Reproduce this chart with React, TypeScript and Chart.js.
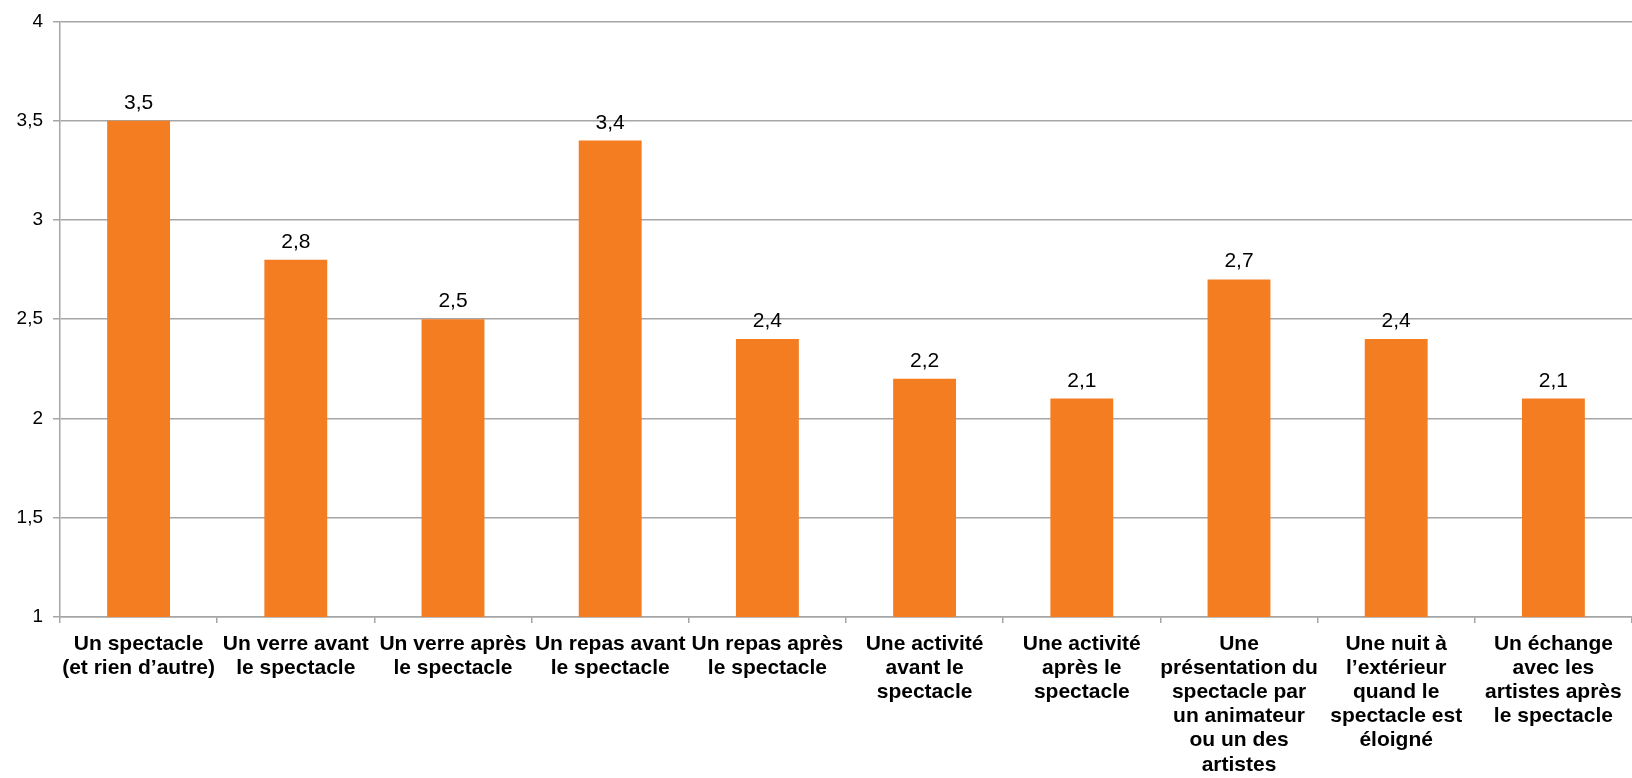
import React, { useEffect, useRef } from "react";
import { Chart, registerables } from "chart.js";

Chart.register(...registerables);

const categories: string[][] = [
  ["Un spectacle", "(et rien d’autre)"],
  ["Un verre avant", "le spectacle"],
  ["Un verre après", "le spectacle"],
  ["Un repas avant", "le spectacle"],
  ["Un repas après", "le spectacle"],
  ["Une activité", "avant le", "spectacle"],
  ["Une activité", "après le", "spectacle"],
  ["Une", "présentation du", "spectacle par", "un animateur", "ou un des", "artistes"],
  ["Une nuit à", "l’extérieur", "quand le", "spectacle est", "éloigné"],
  ["Un échange", "avec les", "artistes après", "le spectacle"],
];

const values: number[] = [3.5, 2.8, 2.5, 3.4, 2.4, 2.2, 2.1, 2.7, 2.4, 2.1];

const yMin = 1;
const yMax = 4;
const yStep = 0.5;

const barColor = "#F47D22";
const gridColor = "#A6A6A6";
const fontFamily = "'Liberation Sans', Arial, sans-serif";

const fmt = (v: number) => String(v).replace(".", ",");

const dataLabelPlugin = {
  id: "dataLabels",
  afterDatasetsDraw(chart: any) {
    const ctx = chart.ctx;
    const meta = chart.getDatasetMeta(0);
    ctx.save();
    ctx.font = `21px ${fontFamily}`;
    ctx.fillStyle = "#000";
    ctx.textAlign = "center";
    ctx.textBaseline = "alphabetic";
    meta.data.forEach((bar: any, i: number) => {
      ctx.fillText(fmt(values[i]), bar.x, bar.y - 12);
    });
    ctx.restore();
  },
};

export default function App() {
  const ref = useRef<HTMLCanvasElement | null>(null);

  useEffect(() => {
    document.body.style.margin = "0";
    const canvas = ref.current;
    if (!canvas) return;
    const chart = new Chart(canvas, {
      type: "bar",
      data: {
        labels: categories,
        datasets: [
          {
            data: values,
            backgroundColor: barColor,
            borderWidth: 0,
            categoryPercentage: 0.8,
            barPercentage: 0.5,
          },
        ],
      },
      options: {
        animation: false,
        responsive: false,
        maintainAspectRatio: false,
        layout: { padding: { top: 19, right: 0, left: 0, bottom: 0 } },
        plugins: {
          legend: { display: false },
          tooltip: { enabled: false },
        },
        scales: {
          x: {
            grid: {
              display: true,
              drawOnChartArea: false,
              drawTicks: true,
              tickLength: 6,
              color: gridColor,
              lineWidth: 1.5,
              offset: true,
            },
            border: { display: true, color: gridColor, width: 1.5 },
            ticks: {
              color: "#000",
              font: { family: fontFamily, size: 21, weight: "bold", lineHeight: 1.15 },
              padding: 9,
              maxRotation: 0,
              autoSkip: false,
            },
            afterFit: (scale: any) => {
              scale.height = 778 - 617;
            },
          },
          y: {
            min: yMin,
            max: yMax,
            ticks: {
              stepSize: yStep,
              color: "#000",
              font: { family: fontFamily, size: 19 },
              padding: 10,
              callback: (v: any) => fmt(Number(v)),
            },
            grid: {
              color: gridColor,
              lineWidth: 1.5,
              tickLength: 7,
              drawTicks: true,
            },
            border: { display: true, color: gridColor, width: 1.5 },
            afterFit: (scale: any) => {
              scale.width = 60;
            },
          },
        },
      },
      plugins: [dataLabelPlugin],
    });
    return () => chart.destroy();
  }, []);

  return (
    <div style={{ position: "absolute", left: 0, top: 0, width: 1632, height: 778 }}>
      <canvas ref={ref} width={1632} height={778} style={{ display: "block" }} />
    </div>
  );
}
